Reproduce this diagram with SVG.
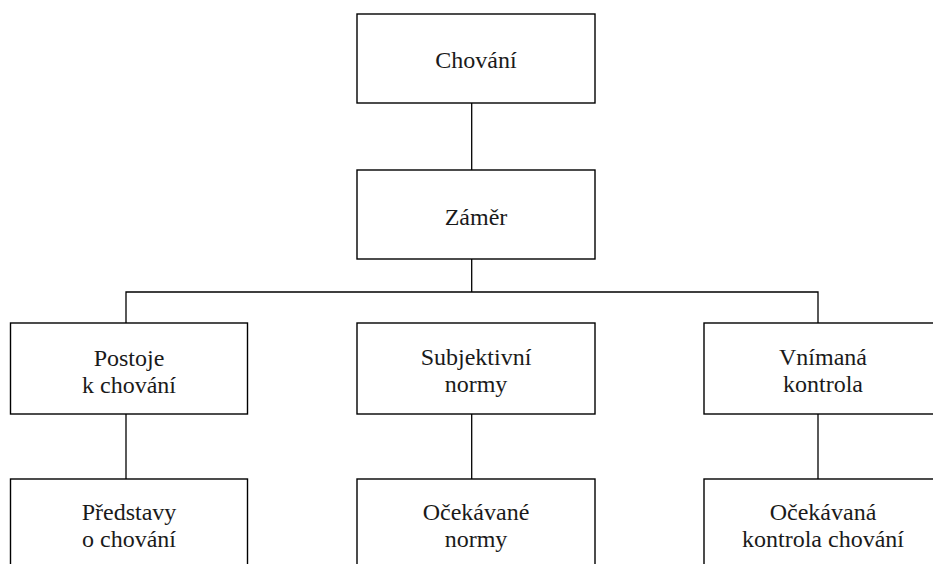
<svg xmlns="http://www.w3.org/2000/svg" width="933" height="564" viewBox="0 0 933 564">
<style>
.box{fill:#fff;stroke:#000;stroke-width:1.4}
.ln{fill:none;stroke:#000;stroke-width:1.3}
text{font-family:"Liberation Serif","DejaVu Serif",serif;font-size:24px;fill:#1a1a1a;text-anchor:middle}
</style>
<rect width="933" height="564" fill="#fff"/>
<g id="connectors">
<line class="ln" x1="471.7" y1="103" x2="471.7" y2="170"/>
<line class="ln" x1="471.7" y1="259" x2="471.7" y2="292"/>
<polyline class="ln" points="126,323 126,292 818,292 818,323"/>
<line class="ln" x1="126" y1="414" x2="126" y2="479"/>
<line class="ln" x1="471.7" y1="414" x2="471.7" y2="479"/>
<line class="ln" x1="818" y1="414" x2="818" y2="479"/>
</g>
<g id="chovani"><rect class="box" x="357" y="14" width="238" height="89"/><text x="476" y="68">Chování</text></g>
<g id="zamer"><rect class="box" x="357" y="170" width="238" height="89"/><text x="476" y="225">Záměr</text></g>
<g id="postoje"><rect class="box" x="10.5" y="323" width="237" height="91"/><text x="129" y="366">Postoje</text><text x="129" y="393">k chování</text></g>
<g id="subjektivni"><rect class="box" x="357" y="323" width="238" height="91"/><text x="476" y="365">Subjektivní</text><text x="476" y="392">normy</text></g>
<g id="vnimana"><rect class="box" x="704" y="323" width="238" height="91"/><text x="823" y="365">Vnímaná</text><text x="823" y="392">kontrola</text></g>
<g id="predstavy"><rect class="box" x="10.5" y="479" width="237" height="100"/><text x="129" y="520">Představy</text><text x="129" y="547">o chování</text></g>
<g id="ocekavane-normy"><rect class="box" x="357" y="479" width="238" height="100"/><text x="476" y="520">Očekávané</text><text x="476" y="547">normy</text></g>
<g id="ocekavana-kontrola"><rect class="box" x="704" y="479" width="238" height="100"/><text x="823" y="520">Očekávaná</text><text x="823" y="547">kontrola chování</text></g>
</svg>
